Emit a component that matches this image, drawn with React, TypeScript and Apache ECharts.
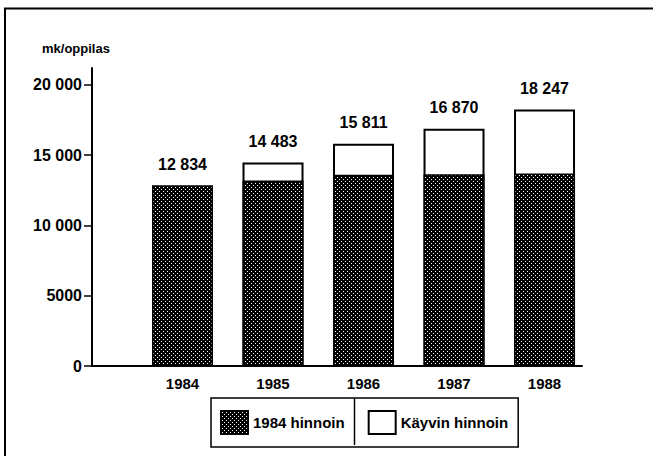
import React, { useEffect, useRef } from "react";
import * as echarts from "echarts";

const years = [1984, 1985, 1986, 1987, 1988];
const currentPrices = [12834, 14483, 15811, 16870, 18247]; // Käyvin hinnoin (total)
const constantPrices = [12834, 13200, 13600, 13650, 13700]; // 1984 hinnoin
const yTicks = [0, 5000, 10000, 15000, 20000];
const seriesNames = ["1984 hinnoin", "Käyvin hinnoin"];
const unitLabel = "mk/oppilas";

const FONT = "'Liberation Sans', Arial, sans-serif";

function fmt(v: number): string {
  if (v >= 10000) {
    return Math.floor(v / 1000) + " " + String(v % 1000).padStart(3, "0");
  }
  return String(v);
}

function makePattern(): string {
  const c = document.createElement("canvas");
  c.width = 4;
  c.height = 4;
  const ctx = c.getContext("2d")!;
  ctx.fillStyle = "#000";
  ctx.fillRect(0, 0, 4, 4);
  ctx.fillStyle = "#fff";
  ctx.fillRect(1, 1, 1, 1);
  ctx.fillRect(3, 3, 1, 1);
  return c.toDataURL();
}

function measure(text: string, font: string): number {
  const c = document.createElement("canvas");
  const ctx = c.getContext("2d")!;
  ctx.font = font;
  return ctx.measureText(text).width;
}

export default function App() {
  const ref = useRef<HTMLDivElement>(null);
  useEffect(() => {
    document.body.style.margin = "0";
    const chart = echarts.init(ref.current!, null, { renderer: "svg" });
    const pat = { image: makePattern(), repeat: "repeat", imageWidth: 4, imageHeight: 4 } as any;
    const textBase = { color: "#000", fontFamily: FONT, fontWeight: "bold" as const };
    const legendLeft = 211;
    const legendPadL = 9;
    const itemW = 27;
    const itemGap = 23;
    const w1 = measure(seriesNames[0], `bold 15px ${FONT}`);
    const dividerX = Math.round(legendLeft + legendPadL + itemW + 5 + w1 + itemGap / 2 - 1) + 0.5;
    chart.setOption({
      animation: false,
      backgroundColor: "#fff",
      title: {
        text: unitLabel,
        left: 42,
        top: 42,
        padding: 0,
        textStyle: { ...textBase, fontSize: 13 },
      },
      grid: { left: 92, right: 71, top: 68, bottom: 90, containLabel: false },
      legend: {
        data: seriesNames,
        left: legendLeft,
        top: 398,
        padding: [12, 10, 12, legendPadL],
        itemGap,
        itemWidth: itemW,
        itemHeight: 23,
        icon: "rect",
        selectedMode: false,
        borderColor: "#000",
        borderWidth: 1.5,
        textStyle: { ...textBase, fontSize: 15 },
      },
      xAxis: {
        type: "value",
        min: 1983,
        max: 1988.414,
        splitLine: { show: false },
        axisTick: { show: false },
        axisLine: { show: true, lineStyle: { color: "#000", width: 2 } },
        axisLabel: {
          customValues: years,
          formatter: (v: number) => String(v),
          margin: 10,
          ...textBase,
          fontSize: 15,
        },
      },
      yAxis: {
        type: "value",
        min: 0,
        max: 21200,
        splitLine: { show: false },
        axisLine: { show: true, lineStyle: { color: "#000", width: 2 } },
        axisTick: { show: true, customValues: yTicks, length: 8, lineStyle: { color: "#000", width: 1.5 } },
        axisLabel: {
          customValues: yTicks,
          formatter: (v: number) => fmt(v),
          margin: 10,
          ...textBase,
          fontSize: 16,
        },
      },
      series: [
        {
          name: seriesNames[1],
          type: "bar",
          barWidth: 61,
          data: years.map((y, i) => [y, currentPrices[i]]),
          itemStyle: { color: "#fff", borderColor: "#000", borderWidth: 2 },
          label: {
            show: true,
            position: "top",
            distance: 13,
            formatter: (p: any) => fmt(p.value[1]),
            ...textBase,
            fontSize: 16,
          },
        },
        {
          name: seriesNames[0],
          type: "bar",
          barWidth: 61,
          barGap: "-100%",
          data: years.map((y, i) => [y, constantPrices[i]]),
          itemStyle: { color: pat, borderColor: "#000", borderWidth: 1.5 },
        },
      ],
      graphic: [
        {
          type: "polyline",
          shape: { points: [[5, 470], [5, 8.5], [660, 8.5]] },
          style: { stroke: "#000", lineWidth: 2, fill: "none" },
        },
        {
          type: "line",
          shape: { x1: dividerX, y1: 398, x2: dividerX, y2: 445 },
          style: { stroke: "#000", lineWidth: 1.5 },
        },
      ],
    });
    return () => chart.dispose();
  }, []);
  return <div ref={ref} style={{ width: 653, height: 456 }} />;
}
